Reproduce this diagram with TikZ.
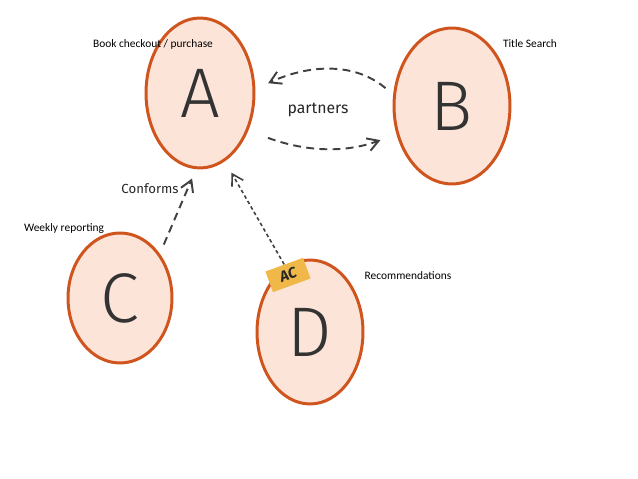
\documentclass[tikz,border=0pt]{standalone}
\usepackage{fontspec}
\setmainfont{Carlito}
\newfontfamily\handfont{Fira Sans}[UprightFont=* Light]
\newfontfamily\notefont{Fira Sans}
\usepackage{xcolor}
\usepackage{tikz}
\usetikzlibrary{positioning, arrows.meta, shapes.geometric}
\definecolor{peach}{RGB}{252,229,216}
\definecolor{rust}{RGB}{208,84,30}
\definecolor{tagyellow}{RGB}{240,184,72}
\tikzset{
    bubble/.style={ellipse, draw=rust, line width=1.7pt, fill=peach, inner sep=0pt, font=\handfont\fontsize{40}{40}\selectfont, text=black!80},
    lbl/.style={font=\fontsize{6.5}{7.5}\selectfont, inner sep=0pt},
    hand/.style={font=\notefont\fontsize{9}{10}\selectfont, text=black!85},
    flow/.style={-{Straight Barb[length=2.2mm, width=2.6mm]}, line width=1.1pt, black!75, dash pattern=on 4.5pt off 3pt},
    dotflow/.style={-{Straight Barb[length=2.2mm, width=2.6mm]}, line width=0.9pt, black!75, dash pattern=on 2pt off 1.6pt},
    tag/.style={rectangle, fill=tagyellow, minimum width=0.8cm, minimum height=0.44cm, inner sep=0pt, text=black!85, font=\notefont\fontsize{8.5}{9}\selectfont\bfseries\itshape}
}
\begin{document}
\begin{tikzpicture}[x=0.02cm, y=0.02cm]
    \useasboundingbox (0,0) rectangle (638,479);

    % --- BUBBLES ---
    \node[bubble, minimum width=2.16cm, minimum height=3.0cm] (A) at (200,386) {A};
    \node[bubble, minimum width=2.32cm, minimum height=3.12cm] (B) at (452,373) {B};
    \node[bubble, minimum width=2.08cm, minimum height=2.6cm] (C) at (120,181) {C};
    \node[bubble, minimum width=2.12cm, minimum height=2.88cm] (D) at (310,147) {D};

    % --- LABELS ---
    \node[lbl] (bookLbl) at (153,435) {Book checkout / purchase};
    \node[lbl] (titleLbl) at (530,435) {Title Search};
    \node[lbl] (weeklyLbl) at (64,250) {Weekly reporting};
    \node[lbl] (recoLbl) at (408,203) {Recommendations};

    % --- RELATIONS ---
    \draw[flow, shorten <=0.2cm, shorten >=0.28cm] (B.169) to[out=140, in=25] (A.4);
    \draw[flow, shorten <=0.42cm, shorten >=0.34cm] (A.-38) to[out=-20, in=200] (B.207);
    \node[hand] (partnersLbl) at (318,369) {partners};

    \draw[flow, shorten <=0.2cm, shorten >=0.2cm] (C.48) -- (A.267);
    \node[hand, font=\notefont\fontsize{7.5}{9}\selectfont] (conformsLbl) at (150,290) {Conforms};

    % AC tag on D
    \node[tag, rotate=20] (AC) at (288,204) {AC};
    \draw[dotflow, shorten >=0.26cm] (AC.north) -- (A.-70);

\end{tikzpicture}
\end{document}
